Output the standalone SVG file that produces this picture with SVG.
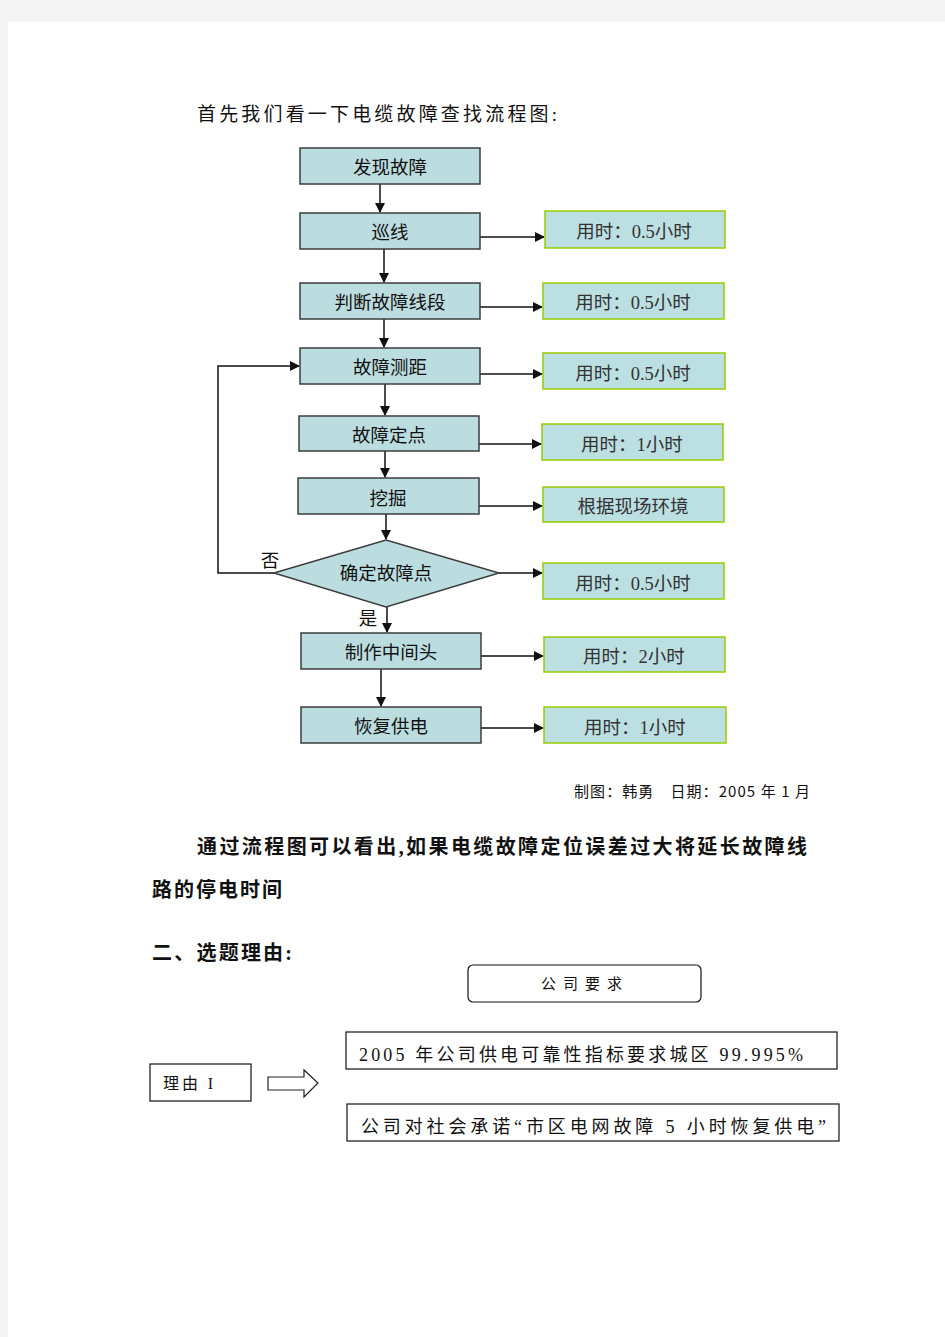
<svg xmlns="http://www.w3.org/2000/svg" width="945" height="1337" viewBox="0 0 945 1337">
<defs>
<style>
.bx{fill:#bcdde0;stroke:#3c3c3c;stroke-width:1.5}
.rb{fill:#bcdfe2;stroke:#99cc00;stroke-width:1.5}
.t{font-family:"Noto Sans CJK SC","Noto Sans",sans-serif;font-size:18.5px;fill:#111;text-anchor:middle}
.rt{font-family:"Liberation Serif","Noto Sans CJK SC",serif;font-size:18.5px;fill:#333;text-anchor:middle}
.ln{stroke:#111;stroke-width:1.5;fill:none}
.s{font-family:"Liberation Serif","Noto Sans CJK SC",serif;fill:#111}
.plain{fill:#fff;stroke:#111;stroke-width:1.2}
</style>
<marker id="ah" markerWidth="10" markerHeight="10" refX="9" refY="5" orient="auto" markerUnits="userSpaceOnUse">
<path d="M0,0 L10,5 L0,10 z" fill="#111"/>
</marker>
</defs>
<rect x="0" y="0" width="945" height="1337" fill="#f3f3f3"/>
<rect x="8" y="22" width="937" height="1315" fill="#fff"/>

<text x="197" y="121" class="s" font-size="19" fill="#444" textLength="360" lengthAdjust="spacing">首先我们看一下电缆故障查找流程图:</text>

<g id="connectors">
<line class="ln" x1="380" y1="184" x2="380" y2="212" marker-end="url(#ah)"/>
<line class="ln" x1="384" y1="249" x2="384" y2="282" marker-end="url(#ah)"/>
<line class="ln" x1="384" y1="319" x2="384" y2="347" marker-end="url(#ah)"/>
<line class="ln" x1="385" y1="384" x2="385" y2="415" marker-end="url(#ah)"/>
<line class="ln" x1="385" y1="451" x2="385" y2="477" marker-end="url(#ah)"/>
<line class="ln" x1="386" y1="514" x2="386" y2="539" marker-end="url(#ah)"/>
<line class="ln" x1="387" y1="607" x2="387" y2="632" marker-end="url(#ah)"/>
<line class="ln" x1="381" y1="669" x2="381" y2="706" marker-end="url(#ah)"/>
<line class="ln" x1="480" y1="237" x2="544" y2="237" marker-end="url(#ah)"/>
<line class="ln" x1="480" y1="307" x2="542" y2="307" marker-end="url(#ah)"/>
<line class="ln" x1="480" y1="374" x2="542" y2="374" marker-end="url(#ah)"/>
<line class="ln" x1="479" y1="444" x2="541" y2="444" marker-end="url(#ah)"/>
<line class="ln" x1="479" y1="506" x2="542" y2="506" marker-end="url(#ah)"/>
<line class="ln" x1="499" y1="573" x2="542" y2="573" marker-end="url(#ah)"/>
<line class="ln" x1="481" y1="656" x2="543" y2="656" marker-end="url(#ah)"/>
<line class="ln" x1="481" y1="728" x2="543" y2="728" marker-end="url(#ah)"/>
<polyline class="ln" points="274,573 218,573 218,366 299,366" marker-end="url(#ah)"/>
<text x="270" y="567" class="t" font-size="15">否</text>
<text x="368" y="625" class="t" font-size="15">是</text>
</g>

<g id="n1"><rect class="bx" x="300" y="148" width="180" height="36"/><text class="t" x="390" y="174">发现故障</text></g>
<g id="n2"><rect class="bx" x="300" y="213" width="180" height="36"/><text class="t" x="390" y="239">巡线</text></g>
<g id="n3"><rect class="bx" x="300" y="283" width="180" height="36"/><text class="t" x="390" y="309">判断故障线段</text></g>
<g id="n4"><rect class="bx" x="300" y="348" width="180" height="36"/><text class="t" x="390" y="374">故障测距</text></g>
<g id="n5"><rect class="bx" x="299" y="416" width="180" height="35"/><text class="t" x="389" y="442">故障定点</text></g>
<g id="n6"><rect class="bx" x="298" y="478" width="181" height="36"/><text class="t" x="388" y="505">挖掘</text></g>
<g id="n7"><polygon class="bx" points="274,573 386,540 499,573 386,607"/><text class="t" x="386" y="580">确定故障点</text></g>
<g id="n8"><rect class="bx" x="301" y="633" width="180" height="36"/><text class="t" x="391" y="659">制作中间头</text></g>
<g id="n9"><rect class="bx" x="301" y="707" width="180" height="36"/><text class="t" x="391" y="733">恢复供电</text></g>

<g id="r1"><rect class="rb" x="545" y="211" width="180" height="37"/><text class="rt" x="634" y="238">用时：0.5小时</text></g>
<g id="r2"><rect class="rb" x="543" y="283" width="181" height="36"/><text class="rt" x="633" y="309">用时：0.5小时</text></g>
<g id="r3"><rect class="rb" x="543" y="353" width="182" height="36"/><text class="rt" x="633" y="380">用时：0.5小时</text></g>
<g id="r4"><rect class="rb" x="542" y="424" width="181" height="36"/><text class="rt" x="632" y="451">用时：1小时</text></g>
<g id="r5"><rect class="rb" x="543" y="487" width="181" height="35"/><text class="rt" x="633" y="513">根据现场环境</text></g>
<g id="r6"><rect class="rb" x="543" y="563" width="181" height="36"/><text class="rt" x="633" y="590">用时：0.5小时</text></g>
<g id="r7"><rect class="rb" x="544" y="637" width="181" height="35"/><text class="rt" x="634" y="663">用时：2小时</text></g>
<g id="r8"><rect class="rb" x="544" y="707" width="182" height="36"/><text class="rt" x="635" y="734">用时：1小时</text></g>

<text x="574" y="797" font-family="Noto Sans CJK SC,sans-serif" font-size="15" fill="#111" textLength="236" lengthAdjust="spacing">制图：韩勇　日期：2005 年 1 月</text>

<text x="197" y="854" class="s" font-size="20" font-weight="bold" textLength="610" lengthAdjust="spacing">通过流程图可以看出,如果电缆故障定位误差过大将延长故障线</text>
<text x="152" y="897" class="s" font-size="20" font-weight="bold" textLength="130" lengthAdjust="spacing">路的停电时间</text>
<text x="152" y="960" class="s" font-size="20" font-weight="bold" textLength="140" lengthAdjust="spacing">二、选题理由:</text>

<g id="b1"><rect class="plain" x="468" y="965" width="233" height="37" rx="5"/><text class="s" x="585" y="989" font-size="15" text-anchor="middle" letter-spacing="7">公司要求</text></g>
<g id="b2"><rect class="plain" x="346" y="1032" width="491" height="37"/><text class="s" x="359" y="1061" font-size="18" fill="#222" textLength="444" lengthAdjust="spacing">2005 年公司供电可靠性指标要求城区 99.995%</text></g>
<g id="b3"><rect class="plain" x="347" y="1104" width="492" height="37"/><text class="s" x="361" y="1133" font-size="18" fill="#222" textLength="465" lengthAdjust="spacing">公司对社会承诺“市区电网故障 5 小时恢复供电”</text></g>
<g id="b4"><rect class="plain" x="150" y="1064" width="101" height="37"/><text class="s" x="163" y="1089" font-size="16" textLength="50" lengthAdjust="spacing">理由 I</text></g>
<g id="b5"><polygon points="268,1077 304,1077 304,1070 318,1083 304,1097 304,1090 268,1090" fill="#fff" stroke="#222" stroke-width="1.2"/></g>
</svg>
